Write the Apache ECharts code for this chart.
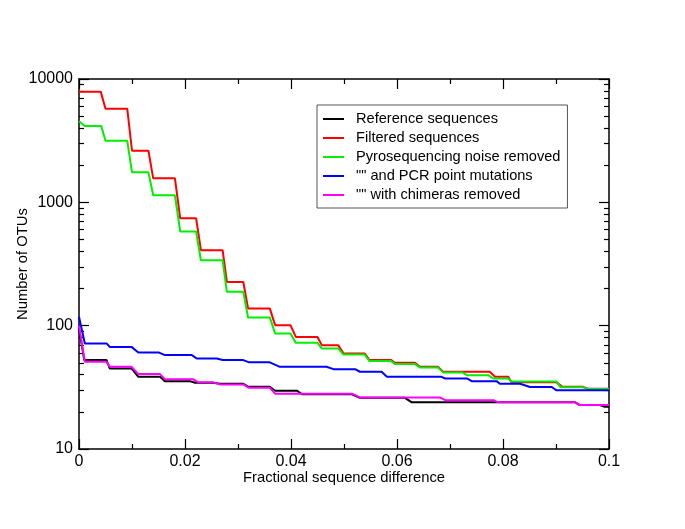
<!DOCTYPE html>
<html>
<head>
<meta charset="utf-8">
<script src="https://cdn.jsdelivr.net/npm/echarts@6/dist/echarts.min.js"></script>
<style>
html,body{margin:0;padding:0;background:#fff;}
#chart{width:685px;height:529px;}
</style>
</head>
<body>
<div id="chart"></div>
<script>
// x: fractional sequence difference, y: number of OTUs (vertices of the step curves)
const referenceSeq = [[0,95],[0.0010,52.6],[0.0052,52.6],[0.0058,45],[0.0099,45],[0.0112,38.5],[0.0153,38.5],[0.0162,35.5],[0.0209,35.5],[0.0219,34.4],[0.0253,34.4],[0.0266,33.8],[0.0310,33.8],[0.0320,31.9],[0.0360,31.9],[0.0370,29.7],[0.0411,29.7],[0.0421,27.8],[0.0515,27.8],[0.0530,26.0],[0.0615,26.0],[0.0628,23.9],[0.0936,23.9],[0.0945,22.7],[0.0983,22.7],[0.0992,22.0],[0.1,22.0]];
const filteredSeq = [[0,7900],[0.0041,7900],[0.0050,5740],[0.0091,5740],[0.0100,2620],[0.0131,2620],[0.0140,1565],[0.0181,1565],[0.0191,742],[0.0221,742],[0.0230,409],[0.0271,409],[0.0279,226],[0.0310,226],[0.0319,138],[0.0360,138],[0.0370,101],[0.0399,101],[0.0409,81],[0.0450,81],[0.0458,69.5],[0.0489,69.5],[0.0499,59.6],[0.0539,59.6],[0.0548,52.6],[0.0589,52.6],[0.0596,50],[0.0634,50],[0.0643,46.4],[0.0677,46.4],[0.0687,42.3],[0.0775,42.3],[0.0785,38.5],[0.0810,38.5],[0.0816,34.7],[0.0901,34.7],[0.0912,31.9],[0.0951,31.9],[0.0960,30.8],[0.1,30.8]];
const noiseRemoved = [[0,4550],[0.0011,4150],[0.0042,4150],[0.0050,3160],[0.0091,3160],[0.0100,1750],[0.0131,1750],[0.0140,1140],[0.0181,1140],[0.0191,579],[0.0221,579],[0.0230,339],[0.0271,339],[0.0279,188],[0.0310,188],[0.0319,116.5],[0.0360,116.5],[0.0370,86.5],[0.0399,86.5],[0.0409,72.6],[0.0450,72.6],[0.0458,65.4],[0.0489,65.4],[0.0499,58.4],[0.0539,58.4],[0.0548,51.6],[0.0589,51.6],[0.0596,48.8],[0.0634,48.8],[0.0643,45.9],[0.0677,45.9],[0.0687,41.8],[0.0723,41.8],[0.0732,39.7],[0.0772,39.7],[0.0782,37.3],[0.0810,37.3],[0.0816,35.2],[0.0901,35.2],[0.0909,31.6],[0.0951,31.6],[0.0960,30.7],[0.1,30.7]];
const pcrRemoved = [[0,118],[0.0011,71.8],[0.0052,71.8],[0.0058,67.3],[0.0099,67.3],[0.0112,60.7],[0.0150,60.7],[0.0162,57.7],[0.0213,57.7],[0.0222,54.2],[0.0260,54.2],[0.0271,52.6],[0.0310,52.6],[0.0321,50.4],[0.0360,50.4],[0.0379,46.4],[0.0467,46.4],[0.0480,44.4],[0.0521,44.4],[0.0530,42.3],[0.0571,42.3],[0.0581,38.5],[0.0684,38.5],[0.0691,37.3],[0.0732,37.3],[0.0741,35.5],[0.0788,35.5],[0.0794,33.8],[0.0832,33.8],[0.0851,31.8],[0.0892,31.8],[0.0901,29.9],[0.1,29.9]];
const chimerasRemoved = [[0,100],[0.0011,50.9],[0.0052,50.9],[0.0058,46.4],[0.0099,46.4],[0.0112,40.5],[0.0153,40.5],[0.0162,36.7],[0.0216,36.7],[0.0225,34.7],[0.0253,34.7],[0.0266,33.4],[0.0310,33.4],[0.0320,31.4],[0.0360,31.4],[0.0370,28.1],[0.0515,28.1],[0.0530,26.2],[0.0681,26.2],[0.0691,24.9],[0.0782,24.9],[0.0791,23.9],[0.0936,23.9],[0.0945,22.7],[0.1,22.7]];

const seriesNames = ['Reference sequences','Filtered sequences','Pyrosequencing noise removed','"" and PCR point mutations','"" with chimeras removed'];
const seriesColors = ['#000000','#ff0000','#00ee00','#0000ff','#ff00ff'];
const seriesData = [referenceSeq, filteredSeq, noiseRemoved, pcrRemoved, chimerasRemoved];

const xTicks = {min:0, max:0.1, interval:0.02};
const yMajor = [10,100,1000,10000];
const yMinorValues = [];
[10,100,1000].forEach(d => { for (let k=2;k<=9;k++) yMinorValues.push(Math.log10(k*d)); });

const FONT = 'Liberation Sans, Arial, sans-serif';
const axisLineStyle = {show:true, onZero:false, lineStyle:{color:'#000', width:1.5}};

const chart = echarts.init(document.getElementById('chart'), null, {renderer:'canvas'});
const xAxisBase = {
  type:'value', min:xTicks.min, max:xTicks.max, interval:xTicks.interval,
  axisLine:axisLineStyle,
  axisTick:{show:true, inside:true, length:10, lineStyle:{color:'#000', width:1.2}},
  minorTick:{show:true, splitNumber:2, length:5, lineStyle:{color:'#000', width:1.2}},
  splitLine:{show:false}, minorSplitLine:{show:false}
};
const yLogBase = {
  type:'log', logBase:10, min:yMajor[0], max:yMajor[yMajor.length-1],
  axisLine:axisLineStyle,
  axisTick:{show:true, inside:true, length:10, lineStyle:{color:'#000', width:1.2}},
  splitLine:{show:false}
};
const yMinorBase = {
  type:'value', min:1, max:4,
  axisLine:{show:false, onZero:false},
  axisLabel:{show:false},
  axisTick:{show:true, inside:true, length:5, customValues:yMinorValues, lineStyle:{color:'#000', width:1.2}},
  splitLine:{show:false}
};

chart.setOption({
  animation:false,
  backgroundColor:'#fff',
  textStyle:{fontFamily:FONT},
  grid:{left:79, right:76, top:79, bottom:80, containLabel:false, outerBoundsMode:'none'},
  legend:{
    orient:'vertical', left:317, top:105,
    padding:[6,7,5,6],
    borderColor:'#555', borderWidth:1, backgroundColor:'#fff',
    icon:'rect', itemWidth:21, itemHeight:2, itemGap:3,
    textStyle:{fontSize:14.6, lineHeight:16, color:'#000', fontFamily:FONT, padding:[0,0,0,7]},
    data:seriesNames
  },
  xAxis:[
    Object.assign({}, xAxisBase, {
      position:'bottom',
      name:'Fractional sequence difference', nameLocation:'middle', nameGap:21, nameMoveOverlap:false,
      nameTextStyle:{fontSize:14.8, color:'#000', fontFamily:FONT},
      axisLabel:{show:true, margin:5, fontSize:16, color:'#000', fontFamily:FONT,
        formatter: v => String(Math.round(v*1000)/1000)}
    }),
    Object.assign({}, xAxisBase, {position:'top', axisLabel:{show:false}})
  ],
  yAxis:[
    Object.assign({}, yLogBase, {
      position:'left',
      name:'Number of OTUs', nameLocation:'middle', nameGap:49, nameMoveOverlap:false,
      nameTextStyle:{fontSize:14.8, color:'#000', fontFamily:FONT},
      axisLabel:{show:true, margin:6, fontSize:16, color:'#000', fontFamily:FONT,
        formatter: v => String(Math.round(v))}
    }),
    Object.assign({}, yMinorBase, {position:'left'}),
    Object.assign({}, yLogBase, {position:'right', axisLabel:{show:false}}),
    Object.assign({}, yMinorBase, {position:'right'})
  ],
  series: seriesData.map((d, i) => ({
    name:seriesNames[i], type:'line', data:d,
    xAxisIndex:0, yAxisIndex:0,
    showSymbol:false, symbol:'none',
    color:seriesColors[i],
    lineStyle:{color:seriesColors[i], width:2},
    z:2+i
  }))
});
</script>
</body>
</html>
